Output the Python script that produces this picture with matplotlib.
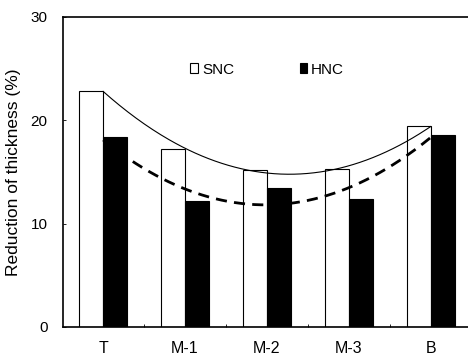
import numpy as np
import matplotlib
matplotlib.use("Agg")
import matplotlib.pyplot as plt
from matplotlib.patches import Patch

categories = ["T", "M-1", "M-2", "M-3", "B"]
snc = [22.8, 17.2, 15.2, 15.3, 19.5]
hnc = [18.4, 12.2, 13.5, 12.4, 18.6]
yticks = [0, 10, 20, 30]

plt.rcParams['font.family'] = ['Liberation Sans', 'DejaVu Sans']

W, H = 468, 360
fig = plt.figure(figsize=(W / 100, H / 100), dpi=100)
ax = fig.add_axes([63 / W, (H - 327) / H, (470 - 63) / W, (327 - 17) / H])

x = np.arange(len(categories))
bw = 0.293
ax.bar(x - bw / 2, snc, width=bw, facecolor='white', edgecolor='black', linewidth=0.8, zorder=2)
ax.bar(x + bw / 2, hnc, width=bw, facecolor='black', edgecolor='black', linewidth=0.8, zorder=2)

xs = np.linspace(0, len(categories) - 1, 200)
ps = np.polyfit(x, snc, 2)
ph = np.polyfit(x, hnc, 2)
ax.plot(xs, np.polyval(ps, xs), color='black', linewidth=0.8, zorder=3)
ax.plot(xs, np.polyval(ph, xs), color='black', linewidth=2.0, dashes=(4.0, 2.6), zorder=3)

ax.set_xlim(-0.49, 4.48)
ax.set_ylim(0, 30)
ax.set_yticks(yticks)
ax.set_yticklabels([str(v) for v in yticks], fontsize=11)
ax.set_xticks(x)
ax.set_xticklabels(categories, fontsize=11.5)
ax.tick_params(axis='x', length=0, pad=10)
ax.set_xticks(np.arange(len(categories) - 1) + 0.5, minor=True)
ax.tick_params(axis='x', which='minor', direction='in', length=2, width=0.6)
ax.tick_params(axis='y', direction='in', length=2, width=0.6, pad=11)
ax.set_ylabel("Reduction of thickness (%)", fontsize=12.5, labelpad=7)

for s in ax.spines.values():
    s.set_linewidth(1.2)

handles = [Patch(facecolor='white', edgecolor='black', linewidth=0.8, label='SNC'),
           Patch(facecolor='black', edgecolor='black', linewidth=0.8, label='HNC')]
ax.legend(handles=handles, ncol=2, frameon=False, fontsize=11,
          handlelength=0.5, handleheight=0.65, handletextpad=0.25,
          columnspacing=4.3, loc='center', bbox_to_anchor=(0.502, 0.83))

fig.savefig("out.png", dpi=100)
